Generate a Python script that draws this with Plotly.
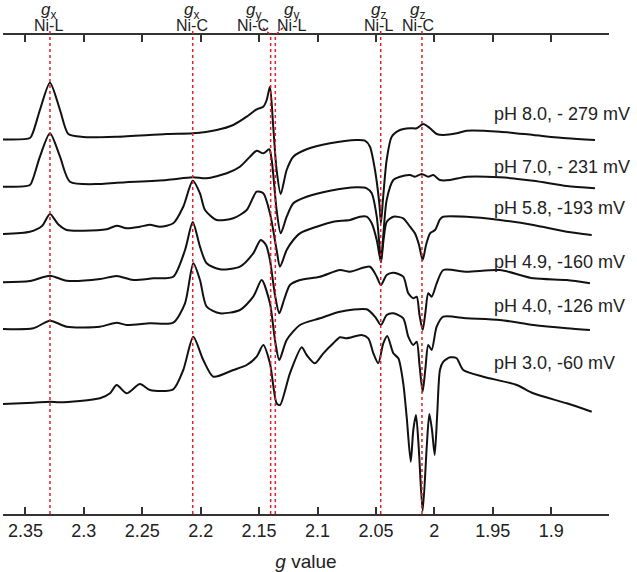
import plotly.graph_objects as go

# EPR spectra, x in g value, y in arbitrary units (stacked traces)
labels = ["pH 8.0, - 279 mV", "pH 7.0, - 231 mV", "pH 5.8, -193 mV",
          "pH 4.9, -160 mV", "pH 4.0, -126 mV", "pH 3.0, -60 mV"]
label_y = [400, 347, 306, 252, 208, 151]

g_ph80 = [2.3718, 2.3461, 2.3433, 2.3376, 2.3290, 2.3204, 2.3133, 2.3005, 2.2719, 2.2291, 2.2068,
          2.1863, 2.1721, 2.1606, 2.1521, 2.1464, 2.1435, 2.1407, 2.1379, 2.1350, 2.1315, 2.1264,
          2.1207, 2.1093, 2.0893, 2.0665, 2.0594, 2.0551, 2.0508, 2.0471, 2.0457, 2.0440, 2.0408,
          2.0365, 2.0294, 2.0208, 2.0151, 2.0094, 2.0037, 1.9980, 1.9923, 1.9809, 1.9723, 1.9438,
          1.9153, 1.8867, 1.8625]
y_ph80 = [374.7, 376, 382.3, 404, 431.3, 404, 380, 377, 377.3, 380, 380.7,
          384, 389, 397.3, 404.7, 407.3, 414, 427.3, 387.3, 344, 320, 344,
          357.3, 364.7, 370.7, 374, 373.3, 367.3, 344, 310.7, 291, 314, 354,
          377.3, 384, 385.7, 385.7, 390, 385.7, 380, 379, 380.7, 383.3, 382.3,
          379, 375.7, 374]

g_ph70 = [2.3718, 2.3461, 2.3433, 2.3376, 2.3290, 2.3204, 2.3119, 2.2862, 2.2719, 2.2291, 2.2068,
          2.1949, 2.1777, 2.1664, 2.1578, 2.1521, 2.1464, 2.1413, 2.1392, 2.1350, 2.1315, 2.1264,
          2.1207, 2.1093, 2.0893, 2.0665, 2.0579, 2.0536, 2.0493, 2.0470, 2.0457, 2.0440, 2.0408,
          2.0351, 2.0294, 2.0208, 2.0166, 2.0108, 2.0052, 2.0009, 1.9952, 1.9866, 1.9723, 1.9438,
          1.9153, 1.8867, 1.8625]
y_ph70 = [327.3, 329, 336, 357.3, 380.7, 357.3, 332.3, 330, 331.3, 334, 336.7,
          335.7, 340.7, 347.3, 357.3, 363.3, 360.7, 364.7, 354, 304, 280.7, 297.3,
          310.7, 317.3, 323.3, 326.7, 325.7, 320.7, 297.3, 269, 252, 274, 314,
          334, 337.3, 339, 337.3, 340, 337.3, 339, 334, 334, 337.3, 336.7,
          333.3, 328, 325.7]

g_ph58 = [2.3718, 2.3461, 2.3358, 2.3290, 2.3222, 2.3147, 2.3005, 2.2805, 2.2719, 2.2634, 2.2520,
          2.2434, 2.2348, 2.2235, 2.2149, 2.2068, 2.2006, 2.1963, 2.1863, 2.1721, 2.1606, 2.1521,
          2.1464, 2.1407, 2.1350, 2.1321, 2.1264, 2.1207, 2.1150, 2.1007, 2.0865, 2.0722, 2.0636,
          2.0579, 2.0536, 2.0493, 2.0457, 2.0435, 2.0408, 2.0351, 2.0266, 2.0208, 2.0166, 2.0131,
          2.0100, 2.0071, 2.0037, 1.9994, 1.9952, 1.9923, 1.9723, 1.9438, 1.9153, 1.8867, 1.8653]
y_ph58 = [280, 282.3, 288, 300, 290, 284, 283.3, 284.7, 288.3, 285.7, 287.3,
          289.3, 287.3, 290.7, 307.3, 333.3, 320.7, 304, 294, 295.7, 304, 322.3,
          320.7, 300.7, 264, 247.3, 264, 274, 280.7, 287.3, 292.3, 294, 297.3,
          297.3, 290.7, 274, 252, 274, 292, 297.3, 295.7, 287.3, 280.7, 269,
          254, 269, 280.7, 284, 294.7, 297.3, 297.3, 294, 289, 282.3, 279]

g_ph49 = [2.3718, 2.3461, 2.3290, 2.3147, 2.2862, 2.2719, 2.2577, 2.2406, 2.2235, 2.2134, 2.2068,
          2.2006, 2.1949, 2.1835, 2.1664, 2.1550, 2.1486, 2.1441, 2.1407, 2.1364, 2.1327, 2.1287,
          2.1236, 2.1150, 2.0979, 2.0808, 2.0722, 2.0551, 2.0493, 2.0457, 2.0408, 2.0351, 2.0266,
          2.0223, 2.0180, 2.0151, 2.0127, 2.0100, 2.0076, 2.0052, 2.0023, 1.9980, 1.9923, 1.9723,
          1.9438, 1.9153, 1.8867, 1.8668]
y_ph49 = [231.7, 233, 238.3, 233.3, 235, 238, 234, 235.7, 237.3, 264, 292,
          267.3, 250.7, 244.7, 247.3, 260.7, 274, 269, 254, 219, 200.7, 214,
          229, 234, 237.3, 244, 242.3, 247.3, 237.3, 229, 239, 241.3, 237.3,
          220.7, 215.7, 217.3, 199, 184, 202, 220.7, 217.3, 230.7, 244, 242.3,
          244, 235.7, 234, 230.7]

g_ph40 = [2.3718, 2.3433, 2.3290, 2.3147, 2.2862, 2.2719, 2.2634, 2.2434, 2.2235, 2.2134, 2.2063,
          2.2006, 2.1949, 2.1835, 2.1664, 2.1550, 2.1478, 2.1407, 2.1364, 2.1327, 2.1264, 2.1150,
          2.0979, 2.0808, 2.0579, 2.0508, 2.0457, 2.0408, 2.0351, 2.0266, 2.0223, 2.0180, 2.0151,
          2.0127, 2.0100, 2.0076, 2.0052, 2.0023, 1.9980, 1.9923, 1.9723, 1.9438, 1.9153, 1.8867,
          1.8668]
y_ph40 = [185, 185.7, 193.3, 187.3, 187.3, 191.3, 189, 190.7, 191.3, 210.7, 250.7,
          234, 207.3, 200.7, 204, 217.3, 234, 210.7, 174, 154, 174, 189,
          195.7, 202.3, 204.7, 197.3, 189, 199, 200.7, 195.7, 177.3, 169, 172.3,
          149, 122.3, 146, 169, 164, 187.3, 197.3, 195.7, 194, 189, 185.7,
          184]

g_ph30 = [2.3718, 2.3433, 2.3290, 2.3204, 2.2862, 2.2776, 2.2719, 2.2634, 2.2520, 2.2434, 2.2235,
          2.2149, 2.2063, 2.1978, 2.1892, 2.1721, 2.1606, 2.1521, 2.1464, 2.1407, 2.1350, 2.1321,
          2.1236, 2.1135, 2.1093, 2.1022, 2.0950, 2.0865, 2.0808, 2.0750, 2.0622, 2.0565, 2.0522,
          2.0480, 2.0437, 2.0403, 2.0351, 2.0308, 2.0266, 2.0237, 2.0202, 2.0180, 2.0157, 2.0134,
          2.0100, 2.0065, 2.0043, 2.0020, 1.9997, 1.9975, 1.9952, 1.9923, 1.9866, 1.9809, 1.9752,
          1.9581, 1.9295, 1.9153, 1.8867, 1.8653]
y_ph30 = [110, 111.3, 112.3, 111.7, 115.7, 120.7, 129, 120.7, 130, 124, 124.7,
          144, 177.3, 154, 137.3, 144, 149, 157.3, 169, 150.7, 110.7, 109,
          140.7, 166.7, 159, 150.7, 160.7, 170.7, 176.7, 175.7, 179, 175.7, 160.7,
          150.7, 170.7, 178, 160.7, 155.7, 130.7, 97.3, 52.3, 84, 99, 67.3,
          3, 67.3, 100, 84, 59, 100.7, 144, 152.3, 156.7, 155.7, 144,
          137.3, 129, 120.7, 110.7, 102.3]

spectra = [(g_ph80, y_ph80), (g_ph70, y_ph70), (g_ph58, y_ph58),
           (g_ph49, y_ph49), (g_ph40, y_ph40), (g_ph30, y_ph30)]

# reference g values (red dotted lines)
ref_g = [2.3290, 2.2068, 2.1401, 2.1361, 2.0459, 2.0106]
ref_sub = ["x", "x", "y", "y", "z", "z"]
ref_name = ["Ni-L", "Ni-C", "Ni-C", "Ni-L", "Ni-L", "Ni-C"]
ref_label_g = [2.3306, 2.2077, 2.1552, 2.1221, 2.0480, 2.0144]

tick_g = [2.35, 2.3, 2.25, 2.2, 2.15, 2.1, 2.05, 2.0, 1.95, 1.9]
tick_text = ["2.35", "2.3", "2.25", "2.2", "2.15", "2.1", "2.05", "2", "1.95", "1.9"]

font = "Arial, Liberation Sans, sans-serif"
ink = "#222222"
red = "#e0202a"

fig = go.Figure()
for g, y in spectra:
    fig.add_trace(go.Scatter(x=g, y=y, mode="lines",
                             line=dict(color="#111111", width=2, shape="spline", smoothing=0.7),
                             showlegend=False, hoverinfo="skip"))

for txt, yy in zip(labels, label_y):
    fig.add_annotation(x=1.9505, y=yy, text=txt, showarrow=False, xanchor="left",
                       yanchor="middle", font=dict(size=18, color=ink, family=font))

for i, gv in enumerate(ref_g):
    top = 1.0 if ref_sub[i] == "y" else 1.011
    fig.add_shape(type="line", xref="x", yref="paper", x0=gv, x1=gv, y0=0, y1=top,
                  line=dict(color=red, width=1.5, dash="dot"), layer="above")
    fig.add_annotation(x=ref_label_g[i], y=1.019, xref="x", yref="paper", text=ref_name[i],
                       showarrow=False, xanchor="center", yanchor="middle",
                       font=dict(size=16, color=ink, family=font))
    fig.add_annotation(x=ref_label_g[i], y=1.050, xref="x", yref="paper",
                       text="<i>g</i><sub>" + ref_sub[i] + "</sub>",
                       showarrow=False, xanchor="center", yanchor="middle",
                       font=dict(size=17, color=ink, family=font))

# short connectors from the g_y labels to their lines
for gl, gv in [(2.1467, 2.1401), (2.1296, 2.1361)]:
    fig.add_shape(type="line", xref="x", yref="paper", x0=gl, x1=gv, y0=1.015, y1=1.0,
                  line=dict(color=red, width=1.5, dash="dot"))

fig.update_xaxes(range=[2.3692, 1.8505], tickmode="array", tickvals=tick_g, ticktext=tick_text,
                 ticks="inside", ticklen=7, tickwidth=1.5, tickcolor="#333333",
                 showline=True, linecolor="#333333", linewidth=1.5, mirror="ticks",
                 showgrid=False, zeroline=False, automargin=False,
                 tickfont=dict(size=18, color=ink, family=font),
                 title=dict(text="<i>g</i> value", font=dict(size=19, color=ink, family=font),
                            standoff=14))
fig.update_yaxes(range=[0, 479], visible=False, showgrid=False, zeroline=False)

fig.update_layout(width=637, height=572, margin=dict(l=3, r=28, t=35, b=58),
                  paper_bgcolor="white", plot_bgcolor="white",
                  font=dict(family=font, color=ink))

# page body has a default 8px margin; drop it so the figure sits at the window corner
fig.write_html("out.html", config={"displayModeBar": False},
               post_script="document.body.style.margin = '0';")
